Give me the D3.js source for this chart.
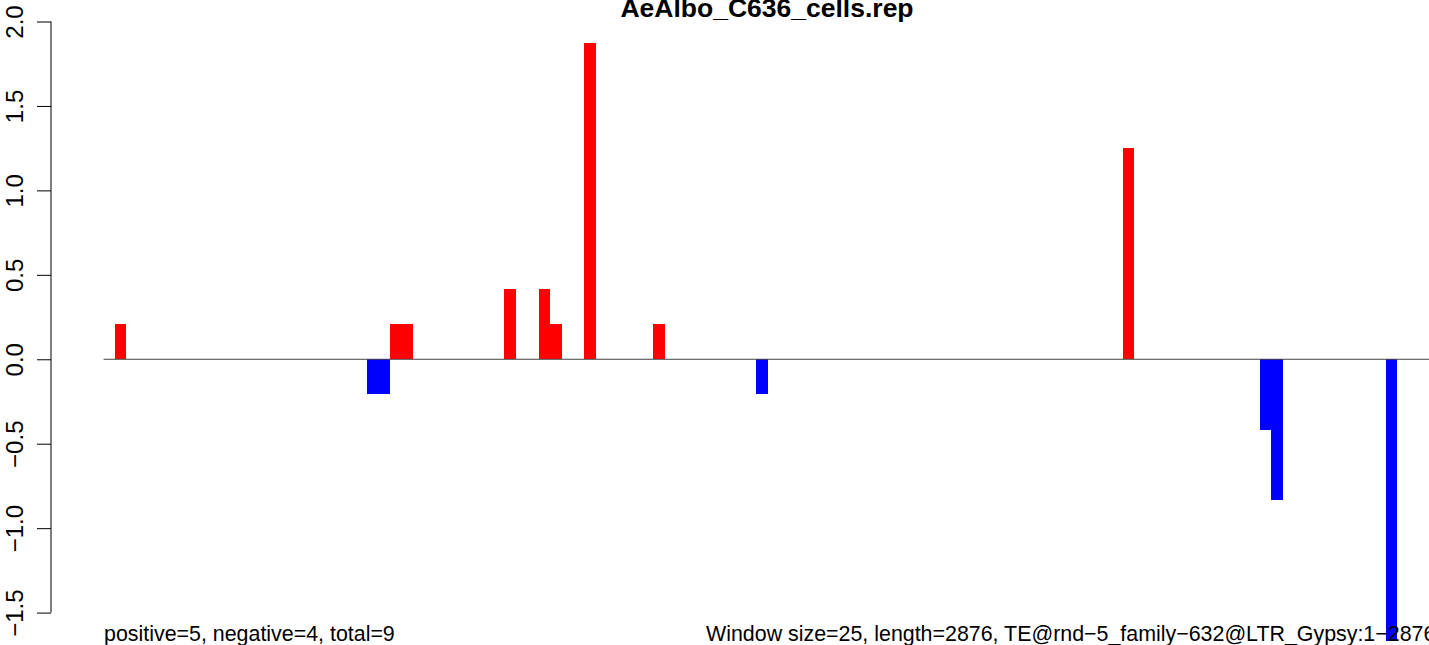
<!DOCTYPE html>
<html>
<head>
<meta charset="utf-8">
<script src="https://cdn.jsdelivr.net/npm/d3@7"></script>
<style>
  html, body { margin: 0; padding: 0; background: #fff; }
  svg { display: block; font-family: "Liberation Sans", Arial, Helvetica, sans-serif; }
</style>
</head>
<body>
<svg id="chart" width="1429" height="645"></svg>
<script>
// ---- data ----
const chartTitle = "AeAlbo_C636_cells.rep";
const windowSize = 25;
const teLength = 2876;
// window index (1-based, 25 bp windows) of each non-empty bar
const windowIndex = [1, 23, 24, 25, 26, 35, 38, 39, 42, 48, 57, 89, 101, 102, 112];
// bar values
const windowValue = [0.2083, -0.2083, -0.2083, 0.2083, 0.2083, 0.4167, 0.4167, 0.2083, 1.875, 0.2083, -0.2083, 1.25, -0.4167, -0.8333, -1.6667];
const yTicks = [-1.5, -1.0, -0.5, 0.0, 0.5, 1.0, 1.5, 2.0];
const leftNote = "positive=5, negative=4, total=9";
const rightNote = "Window size=25, length=2876, TE@rnd\u22125_family\u2212632@LTR_Gypsy:1\u22122876";

const posColor = "#ff0000";
const negColor = "#0000ff";

// ---- layout ----
const svg = d3.select("#chart");
const W = 1429, H = 645;
const x0px = 103.55, pxPerWindow = 11.45;
const nWindows = 120;
const x = d3.scaleLinear().domain([0, nWindows]).range([x0px, x0px + nWindows * pxPerWindow]);
const y = d3.scaleLinear().domain([-1.5, 2.0]).range([612.6, 21.5]);

const bars = windowIndex.map((w, i) => ({ w, v: windowValue[i] }));

// bars
svg.append("g")
  .attr("shape-rendering", "crispEdges")
  .selectAll("rect")
  .data(bars)
  .join("rect")
  .attr("x", d => x(d.w))
  .attr("width", d => x(d.w + 1) - x(d.w))
  .attr("y", d => y(Math.max(0, d.v)))
  .attr("height", d => Math.abs(y(d.v) - y(0)))
  .attr("fill", d => d.v >= 0 ? posColor : negColor);

// zero line
svg.append("line")
  .attr("x1", x(0)).attr("x2", W + 10)
  .attr("y1", y(0)).attr("y2", y(0))
  .attr("stroke", "#444").attr("stroke-width", 1);

// y axis (R style)
const axisX = 51;
const yAxis = d3.axisLeft(y)
  .tickValues(yTicks)
  .tickSize(14)
  .tickPadding(0)
  .tickFormat(d => d3.format(".1f")(d).replace("-", "\u2212"));
const gAxis = svg.append("g")
  .attr("transform", `translate(${axisX},0)`)
  .call(yAxis);
gAxis.select(".domain").remove();
gAxis.append("line")
  .attr("x1", 0).attr("x2", 0)
  .attr("y1", y(2.0)).attr("y2", y(-1.5))
  .attr("stroke", "#000").attr("stroke-width", 1);
gAxis.selectAll(".tick line").attr("stroke", "#000");
gAxis.selectAll(".tick text")
  .attr("x", null).attr("dy", null)
  .attr("transform", `translate(${23 - axisX},0) rotate(-90)`)
  .attr("text-anchor", "middle")
  .attr("fill", "#000")
  .style("font-size", "24px")
  .style("font-family", "'Liberation Sans', Arial, sans-serif");

// title
svg.append("text")
  .attr("x", 767).attr("y", 17)
  .attr("text-anchor", "middle")
  .style("font-size", "26.5px")
  .style("font-weight", "bold")
  .text(chartTitle);

// bottom notes
svg.append("text")
  .attr("x", 104).attr("y", 641)
  .style("font-size", "21.4px")
  .text(leftNote);
svg.append("text")
  .attr("x", 706).attr("y", 641)
  .style("font-size", "21.4px")
  .text(rightNote);
</script>
</body>
</html>
